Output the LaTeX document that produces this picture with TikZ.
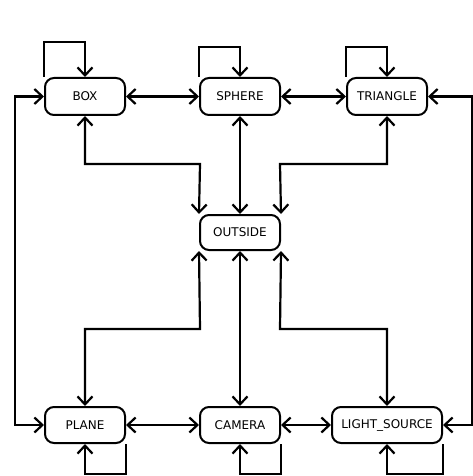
\documentclass[tikz,border=0pt]{standalone}
\usepackage{fontspec}
\setmainfont{DejaVu Sans}
\usetikzlibrary{arrows.meta}
\begin{document}
\begin{tikzpicture}[x=1pt,y=-1pt,
  state/.style={draw,line width=2pt,rounded corners=9pt,minimum width=80pt,minimum height=37pt,inner sep=0pt,font=\fontsize{12}{14}\selectfont},
  conn/.style={line width=2.2pt,{Straight Barb[length=8pt,width=15pt,line width=2.2pt]}-{Straight Barb[length=8pt,width=15pt,line width=2.2pt]}},
  loopc/.style={line width=2.2pt,-{Straight Barb[length=8pt,width=15pt,line width=2.2pt]}}]
\useasboundingbox (0,0) rectangle (473,476);
\node[state] (box) at (85,96.5) {BOX};
\node[state] (sphere) at (240,96.5) {SPHERE};
\node[state] (tri) at (387,96.5) {TRIANGLE};
\node[state,minimum height=35pt] (out) at (240,232.5) {OUTSIDE};
\node[state,minimum height=36pt] (plane) at (85,425) {PLANE};
\node[state,minimum height=36pt] (cam) at (240,425) {CAMERA};
\node[state,minimum height=36pt,minimum width=110pt] (light) at (387,425) {LIGHT\_SOURCE};
% self loops
\draw[loopc] (box.north west) -- ++(0,-35) -| (box.north);
\draw[loopc] (sphere.north west) -- ++(0,-30) -| (sphere.north);
\draw[loopc] (tri.north west) -- ++(0,-30) -| (tri.north);
\draw[loopc] (plane.south east) -- ++(0,30) -| (plane.south);
\draw[loopc] (cam.south east) -- ++(0,30) -| (cam.south);
\draw[loopc] (light.south east) -- ++(0,30) -| (light.south);
% horizontal
\draw[conn] (box) -- (sphere);
\draw[conn] (sphere) -- (tri);
\draw[conn] (plane) -- (cam);
\draw[conn] (cam) -- (light);
% sides
\coordinate (l1) at (15,96.5);
\coordinate (r1) at (472,96.5);
\draw[conn] (box.west) -- (l1) |- (plane.west);
\draw[conn] (tri.east) -- (r1) |- (light.east);
% to outside
\draw[conn] (box.south) |- (200,164) -- (out.north west);
\draw[conn] (sphere.south) -- (out.north);
\draw[conn] (tri.south) |- (280,164) -- (out.north east);
\draw[conn] (out.south west) -- (200,329) -| (plane.north);
\draw[conn] (out.south) -- (cam.north);
\draw[conn] (out.south east) -- (280,329) -| (light.north);
\end{tikzpicture}
\end{document}
